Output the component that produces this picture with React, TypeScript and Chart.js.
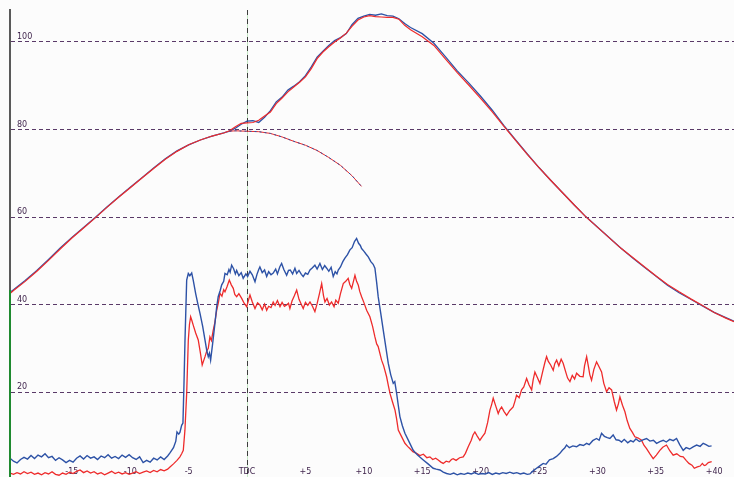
import React, { useEffect, useRef } from 'react';
import { Chart, registerables } from 'chart.js';

Chart.register(...registerables);

// Crank angle axis (degrees around TDC) and value axis ranges
const X_MIN = -20.3;
const X_MAX = 41.7;
const Y_MIN = 0.6;
const Y_MAX = 107.3;
const X_TICKS = [-15, -10, -5, 0, 5, 10, 15, 20, 25, 30, 35, 40];
const Y_TICKS = [20, 40, 60, 80, 100];
const GREEN_AXIS_FROM = 43.3;

// Cylinder pressure (fired) – crank angles
const P_DEG = [
  -20.3, -20, -19, -18, -17, -16, -15, -14, -13, -12, -11, -10, -9, -8, -7, -6, -5, -4, -3, -2,
  -1.5, -1, -0.5, 0, 0.5, 1, 1.5, 2, 2.5, 3, 3.5, 4, 4.5, 5, 5.5, 6, 6.5, 7, 7.5, 8, 8.5, 9, 9.5,
  10, 10.5, 11, 11.5, 12, 12.5, 13, 13.5, 14, 15, 16, 17, 18, 19, 20, 21, 22, 23, 24, 25, 26, 27,
  28, 29, 30, 31, 32, 33, 34, 35, 36, 37, 38, 39, 40, 41, 41.7,
];
const P_BLUE = [
  42.8, 43.4, 45.5, 47.8, 50.3, 52.9, 55.3, 57.6, 59.9, 62.3, 64.6, 66.8, 69.0, 71.2, 73.3, 75.1, 76.5, 77.6, 78.5, 79.2,
  79.6, 80.3, 81.2, 81.9, 82.0, 81.6, 82.8, 84.3, 86.3, 87.4, 89.0, 89.9, 90.9, 92.3, 94.3, 96.5, 97.9, 99.2, 100.3, 101.0, 101.9, 104.0, 105.4,
  105.9, 106.3, 106.1, 106.4, 106.0, 105.9, 105.3, 104.2, 103.3, 101.9, 99.7, 96.6, 93.4, 90.6, 87.6, 84.4, 80.9, 77.6, 74.4, 71.3, 68.4, 65.6,
  62.8, 60.1, 57.7, 55.3, 52.9, 50.7, 48.6, 46.5, 44.4, 42.7, 41.2, 39.7, 38.2, 37.0, 36.2,
];
const P_RED = [
  42.5, 43.2, 45.3, 47.6, 50.1, 52.7, 55.2, 57.5, 59.8, 62.2, 64.5, 66.7, 68.9, 71.1, 73.2, 75.0, 76.5, 77.6, 78.5, 79.2,
  79.7, 80.6, 81.4, 81.5, 81.6, 82.1, 83.1, 84.0, 85.9, 87.2, 88.6, 89.7, 90.8, 92.0, 93.9, 96.2, 97.7, 98.9, 100.0, 100.9, 102.0, 103.6, 105.0,
  105.7, 106.0, 105.8, 105.7, 105.6, 105.6, 105.2, 103.8, 102.8, 101.2, 99.2, 96.1, 93.0, 90.1, 87.1, 84.0, 80.7, 77.5, 74.3, 71.3, 68.4, 65.6,
  62.8, 60.1, 57.7, 55.3, 52.9, 50.8, 48.7, 46.6, 44.6, 42.9, 41.3, 39.8, 38.2, 36.9, 36.1,
];

// Motoring (no combustion) pressure after TDC
const M_DEG = [-1.5, -1, 0, 1, 2, 3, 4, 5, 6, 7, 8, 9, 9.8];
const M_VAL = [79.6, 79.7, 79.6, 79.5, 79.1, 78.3, 77.3, 76.4, 75.2, 73.6, 71.8, 69.4, 67.0];

// Lower blue trace: [crank angle, value]
const BLUE_TRACE: [number, number][] = [
  [-20.3, 4.9], [-20.0, 4.2], [-19.7, 3.8], [-19.4, 4.6], [-19.1, 5.1], [-18.8, 4.7], [-18.5, 5.5], [-18.2, 4.8],
  [-17.9, 5.6], [-17.6, 5.2], [-17.3, 5.9], [-17.0, 5.0], [-16.7, 5.3], [-16.4, 4.4], [-16.1, 5.0], [-15.8, 4.5],
  [-15.5, 3.9], [-15.2, 4.4], [-14.9, 4.0], [-14.6, 4.9], [-14.3, 5.4], [-14.0, 4.7], [-13.7, 5.5], [-13.4, 4.9],
  [-13.1, 5.2], [-12.8, 4.6], [-12.5, 5.4], [-12.2, 5.0], [-11.9, 5.7], [-11.6, 4.9], [-11.3, 5.3], [-11.0, 4.8],
  [-10.7, 5.6], [-10.4, 5.1], [-10.1, 5.7], [-9.8, 5.0], [-9.5, 4.6], [-9.2, 5.2], [-8.9, 3.9], [-8.6, 4.4],
  [-8.3, 4.0], [-8.0, 4.9], [-7.7, 4.5], [-7.4, 5.2], [-7.1, 4.6], [-6.8, 5.4], [-6.6, 6.1], [-6.3, 7.3],
  [-6.1, 8.8], [-6.0, 10.9], [-5.85, 10.4], [-5.75, 10.8], [-5.6, 12.4], [-5.49, 12.9], [-5.4, 22.0], [-5.32, 31.2],
  [-5.17, 45.6], [-5.03, 47.1], [-4.9, 46.6], [-4.74, 47.2], [-4.61, 45.6], [-4.4, 42.5], [-4.2, 40.0], [-4.03, 38.0],
  [-3.8, 35.0], [-3.6, 31.9], [-3.45, 29.5], [-3.32, 28.1], [-3.22, 28.9], [-3.12, 27.3], [-2.95, 31.0], [-2.75, 35.7],
  [-2.6, 39.5], [-2.47, 41.8], [-2.3, 43.2], [-2.17, 44.5], [-2.0, 45.3], [-1.89, 47.1], [-1.7, 46.8], [-1.55, 48.0],
  [-1.45, 47.4], [-1.32, 49.0], [-1.15, 48.2], [-1.0, 47.0], [-0.89, 47.8], [-0.7, 46.6], [-0.5, 47.3], [-0.33, 46.0],
  [-0.1, 47.0], [0.05, 46.4], [0.25, 47.6], [0.45, 46.8], [0.68, 45.2], [0.85, 46.9], [1.0, 48.0], [1.1, 48.6],
  [1.3, 47.3], [1.5, 47.9], [1.68, 46.4], [1.85, 47.5], [2.05, 46.8], [2.24, 47.2], [2.45, 48.1], [2.6, 47.0],
  [2.8, 48.6], [2.96, 49.4], [3.15, 48.0], [3.39, 46.7], [3.55, 47.8], [3.7, 47.9], [3.9, 47.0], [4.1, 48.3],
  [4.25, 47.1], [4.45, 47.8], [4.65, 46.9], [4.81, 46.4], [5.0, 47.2], [5.2, 46.9], [5.39, 47.9], [5.6, 48.4],
  [5.81, 49.0], [6.0, 48.1], [6.24, 49.4], [6.45, 48.0], [6.65, 48.9], [6.82, 48.3], [7.0, 47.6], [7.2, 48.5],
  [7.38, 46.4], [7.55, 47.5], [7.7, 47.0], [7.81, 47.9], [8.0, 48.6], [8.2, 49.8], [8.38, 50.6], [8.6, 51.4],
  [8.81, 52.5], [9.0, 53.0], [9.2, 54.4], [9.38, 55.1], [9.55, 54.0], [9.7, 53.5], [9.81, 52.8], [10.0, 52.2],
  [10.2, 51.5], [10.38, 50.9], [10.6, 49.8], [10.8, 49.2], [10.95, 48.3], [11.1, 45.0], [11.23, 41.8], [11.45, 38.0],
  [11.66, 34.2], [11.9, 30.0], [12.09, 26.6], [12.3, 24.0], [12.52, 22.0], [12.65, 22.4], [12.81, 19.7], [12.95, 17.0],
  [13.09, 14.4], [13.3, 12.3], [13.52, 10.6], [13.9, 8.5], [14.23, 6.7], [14.6, 5.6], [15.09, 4.5], [15.5, 3.6],
  [15.94, 2.6], [16.2, 2.4], [16.52, 2.2], [16.8, 1.7], [17.09, 1.4], [17.4, 1.2], [17.7, 1.5], [18.0, 1.1],
  [18.3, 1.4], [18.6, 1.2], [18.9, 1.5], [19.2, 1.3], [19.5, 1.6], [19.8, 1.2], [20.1, 1.4], [20.4, 1.3],
  [20.7, 1.6], [21.0, 1.2], [21.3, 1.5], [21.6, 1.3], [21.9, 1.6], [22.2, 1.4], [22.5, 1.7], [22.8, 1.4],
  [23.1, 1.6], [23.4, 1.3], [23.7, 1.5], [24.0, 1.2], [24.22, 1.3], [24.5, 2.0], [24.79, 2.6], [25.1, 3.2],
  [25.36, 3.7], [25.6, 3.5], [25.9, 4.5], [26.22, 4.8], [26.5, 5.3], [26.79, 6.0], [27.0, 6.7], [27.2, 7.2],
  [27.36, 7.9], [27.6, 7.3], [27.9, 7.7], [28.22, 7.5], [28.5, 8.0], [28.8, 7.8], [29.08, 8.3], [29.3, 8.0],
  [29.6, 8.9], [29.93, 9.4], [30.15, 9.0], [30.36, 10.6], [30.6, 9.9], [30.85, 9.6], [31.07, 9.4], [31.35, 10.2],
  [31.6, 9.1], [31.85, 9.0], [32.07, 8.6], [32.3, 9.2], [32.6, 8.4], [32.85, 8.9], [33.07, 8.6], [33.3, 9.3],
  [33.6, 8.7], [33.9, 9.1], [34.21, 9.4], [34.5, 8.8], [34.8, 9.0], [35.07, 8.3], [35.35, 8.7], [35.64, 9.0],
  [35.9, 8.6], [36.2, 9.2], [36.5, 8.9], [36.78, 9.4], [37.05, 8.0], [37.35, 6.7], [37.6, 7.3], [37.9, 7.0],
  [38.2, 7.5], [38.5, 7.9], [38.8, 7.6], [39.06, 8.3], [39.3, 8.0], [39.55, 7.6], [39.78, 7.7],
];

// Lower red trace: [crank angle, value]
const RED_TRACE: [number, number][] = [
  [-20.3, 1.5], [-20.0, 1.2], [-19.7, 1.6], [-19.4, 1.3], [-19.1, 1.8], [-18.8, 1.4], [-18.5, 1.7], [-18.2, 1.2],
  [-17.9, 1.5], [-17.6, 1.1], [-17.3, 1.6], [-17.0, 1.3], [-16.7, 1.8], [-16.4, 1.2], [-16.1, 1.0], [-15.8, 1.5],
  [-15.5, 1.2], [-15.2, 1.7], [-14.9, 1.4], [-14.6, 1.9], [-14.3, 2.2], [-14.0, 1.6], [-13.7, 2.0], [-13.4, 1.5],
  [-13.1, 1.8], [-12.8, 1.3], [-12.5, 1.6], [-12.2, 1.1], [-11.9, 1.5], [-11.6, 1.9], [-11.3, 1.4], [-11.0, 1.7],
  [-10.7, 1.3], [-10.4, 1.6], [-10.1, 1.2], [-9.8, 1.5], [-9.5, 1.8], [-9.2, 1.4], [-8.9, 1.7], [-8.6, 2.0],
  [-8.3, 1.6], [-8.0, 2.1], [-7.7, 1.8], [-7.4, 2.3], [-7.1, 2.0], [-6.8, 2.4], [-6.6, 2.9], [-6.3, 3.6],
  [-6.0, 4.4], [-5.75, 5.2], [-5.6, 5.9], [-5.46, 6.7], [-5.32, 11.3], [-5.17, 19.7], [-5.03, 31.9], [-4.93, 35.5],
  [-4.83, 37.2], [-4.72, 36.3], [-4.61, 35.3], [-4.4, 33.5], [-4.18, 31.9], [-4.0, 29.0], [-3.84, 26.2], [-3.7, 27.3],
  [-3.6, 28.1], [-3.45, 29.4], [-3.32, 30.0], [-3.18, 32.6], [-3.05, 31.8], [-2.89, 34.2], [-2.75, 36.0], [-2.6, 38.7],
  [-2.45, 40.5], [-2.32, 42.6], [-2.15, 41.9], [-2.0, 43.4], [-1.89, 42.9], [-1.7, 44.2], [-1.52, 45.6], [-1.35, 44.5],
  [-1.18, 43.7], [-1.05, 42.3], [-0.89, 41.8], [-0.7, 42.5], [-0.46, 41.4], [-0.25, 40.3], [-0.03, 39.5], [0.1, 40.8],
  [0.25, 42.2], [0.45, 40.6], [0.68, 39.1], [0.9, 40.4], [1.1, 39.9], [1.3, 38.8], [1.5, 40.1], [1.68, 38.7],
  [1.85, 39.6], [2.05, 39.3], [2.24, 40.6], [2.4, 39.8], [2.6, 40.9], [2.82, 39.5], [3.0, 40.5], [3.2, 39.6],
  [3.39, 39.9], [3.55, 40.3], [3.67, 39.1], [3.85, 40.8], [4.05, 42.0], [4.25, 43.3], [4.45, 41.2], [4.65, 40.0],
  [4.81, 39.1], [5.0, 40.5], [5.2, 39.8], [5.39, 40.6], [5.6, 39.6], [5.81, 38.4], [6.0, 40.2], [6.2, 42.5],
  [6.39, 44.8], [6.55, 42.0], [6.67, 40.6], [6.85, 41.4], [7.05, 39.9], [7.24, 40.6], [7.45, 39.5], [7.6, 41.0],
  [7.81, 40.3], [8.0, 42.5], [8.24, 44.8], [8.45, 45.3], [8.66, 46.0], [8.8, 44.6], [8.96, 43.7], [9.1, 45.2],
  [9.24, 46.7], [9.38, 45.3], [9.52, 44.5], [9.65, 43.0], [9.81, 41.8], [10.0, 40.5], [10.24, 38.7], [10.52, 37.2],
  [10.75, 35.0], [10.95, 32.6], [11.1, 31.0], [11.23, 30.4], [11.52, 27.3], [11.7, 26.0], [11.95, 23.5], [12.1, 21.5],
  [12.24, 19.7], [12.45, 17.8], [12.67, 15.9], [12.8, 14.0], [12.95, 11.3], [13.2, 10.0], [13.52, 8.3], [13.75, 7.6],
  [13.94, 7.1], [14.2, 6.4], [14.52, 6.0], [14.8, 5.5], [15.1, 5.8], [15.4, 5.0], [15.66, 5.2], [15.9, 4.6],
  [16.15, 4.9], [16.37, 4.5], [16.6, 4.0], [16.8, 3.7], [17.05, 4.2], [17.3, 4.0], [17.5, 4.6], [17.65, 4.8],
  [17.9, 4.4], [18.2, 5.0], [18.51, 5.2], [18.7, 6.0], [18.94, 7.5], [19.2, 9.0], [19.35, 10.2], [19.51, 10.9],
  [19.7, 10.0], [19.94, 9.0], [20.15, 9.8], [20.37, 10.6], [20.6, 13.0], [20.8, 15.9], [20.95, 17.2], [21.08, 18.6],
  [21.3, 16.8], [21.51, 15.1], [21.65, 16.0], [21.8, 16.6], [22.0, 15.6], [22.23, 14.7], [22.5, 15.8], [22.79, 16.6],
  [22.95, 18.0], [23.08, 19.3], [23.3, 18.7], [23.51, 20.5], [23.7, 21.2], [23.94, 23.1], [24.15, 21.6], [24.37, 20.5],
  [24.5, 22.8], [24.65, 24.6], [24.85, 23.4], [25.08, 22.0], [25.3, 24.5], [25.5, 26.7], [25.65, 28.1], [25.8, 27.0],
  [26.0, 26.2], [26.22, 25.0], [26.35, 26.5], [26.51, 27.3], [26.7, 26.0], [26.9, 27.5], [27.07, 26.6], [27.3, 24.5],
  [27.45, 23.2], [27.65, 22.4], [27.85, 23.8], [28.05, 23.0], [28.22, 24.3], [28.5, 23.6], [28.78, 23.5], [28.9, 26.0],
  [29.08, 28.1], [29.25, 25.6], [29.35, 24.0], [29.5, 22.7], [29.7, 25.2], [29.93, 26.9], [30.1, 26.0], [30.36, 24.6],
  [30.55, 22.0], [30.79, 20.1], [31.0, 21.0], [31.22, 20.5], [31.45, 17.8], [31.64, 15.9], [31.8, 17.3], [31.93, 18.9],
  [32.15, 17.0], [32.36, 15.5], [32.55, 13.5], [32.78, 11.7], [33.0, 10.8], [33.21, 9.8], [33.5, 9.5], [33.78, 9.0],
  [34.0, 7.8], [34.21, 7.1], [34.5, 5.9], [34.78, 4.8], [35.05, 5.6], [35.35, 6.7], [35.6, 7.4], [35.92, 7.9],
  [36.2, 6.6], [36.49, 5.6], [36.8, 5.9], [37.1, 5.3], [37.35, 5.2], [37.6, 4.4], [37.84, 3.7], [38.1, 3.3],
  [38.3, 2.6], [38.56, 2.9], [38.8, 3.1], [38.99, 3.7], [39.15, 3.2], [39.27, 3.3], [39.5, 3.9], [39.79, 4.1],
];

const BLUE = '#2d52a6';
const RED = '#ee2b2b';
const GRID = '#5a3a68';
const LABEL = '#3b1f48';
const BG = '#fcfcfc';

const zip = (xs: number[], ys: number[]) => xs.map((x, i) => ({ x, y: ys[i] }));
const pairs = (p: [number, number][]) => p.map(([x, y]) => ({ x, y }));

const decorPlugin = {
  id: 'decor',
  beforeDraw(chart: any) {
    const { ctx, chartArea, scales } = chart;
    ctx.save();
    ctx.fillStyle = BG;
    ctx.fillRect(0, 0, chart.width, chart.height);
    const x0 = Math.round(scales.x.getPixelForValue(0)) + 0.5;
    ctx.strokeStyle = '#c4e6c4';
    ctx.lineWidth = 1;
    ctx.beginPath();
    ctx.moveTo(x0, chartArea.top);
    ctx.lineTo(x0, chartArea.bottom);
    ctx.stroke();
    ctx.restore();
  },
  afterDraw(chart: any) {
    const { ctx, chartArea, scales } = chart;
    const yTop = scales.y.getPixelForValue(GREEN_AXIS_FROM);
    ctx.save();
    ctx.strokeStyle = '#1f8a30';
    ctx.lineWidth = 2;
    ctx.beginPath();
    ctx.moveTo(Math.round(chartArea.left), yTop);
    ctx.lineTo(Math.round(chartArea.left), chart.height);
    ctx.stroke();
    ctx.restore();
  },
};

export default function App() {
  const ref = useRef<HTMLCanvasElement>(null);

  useEffect(() => {
    document.body.style.margin = '0';
    const line = { pointRadius: 0, tension: 0, fill: false };
    const chart = new Chart(ref.current as HTMLCanvasElement, {
      type: 'line',
      data: {
        datasets: [
          { ...line, label: 'motoring-b', data: zip(M_DEG, M_VAL), borderColor: BLUE, borderWidth: 1, borderDash: [2, 3] },
          { ...line, label: 'motoring-r', data: zip(M_DEG, M_VAL), borderColor: RED, borderWidth: 1 },
          { ...line, label: 'pressure-r', data: zip(P_DEG, P_RED), borderColor: RED, borderWidth: 1.2 },
          { ...line, label: 'pressure-b', data: zip(P_DEG, P_BLUE), borderColor: BLUE, borderWidth: 1.3 },
          { ...line, label: 'trace-b', data: pairs(BLUE_TRACE), borderColor: BLUE, borderWidth: 1.4 },
          { ...line, label: 'trace-r', data: pairs(RED_TRACE), borderColor: RED, borderWidth: 1.3 },
        ],
      },
      options: {
        animation: false,
        responsive: false,
        events: [],
        layout: { padding: { top: 10, left: 0, right: 0, bottom: 0 } },
        plugins: { legend: { display: false }, tooltip: { enabled: false } },
        scales: {
          x: {
            type: 'linear',
            min: X_MIN,
            max: X_MAX,
            afterBuildTicks: (scale: any) => {
              scale.ticks = X_TICKS.map((v) => ({ value: v }));
            },
            afterFit: (scale: any) => {
              scale.height = 0;
              scale.paddingLeft = 0;
              scale.paddingRight = 0;
              scale.paddingTop = 0;
              scale.paddingBottom = 0;
            },
            grid: {
              drawTicks: false,
              lineWidth: 1,
              color: (c: any) => (c.tick && c.tick.value === 0 ? '#3c3c3c' : 'rgba(0,0,0,0)'),
            },
            border: { display: false, dash: [5, 4] },
            ticks: {
              mirror: true,
              padding: 0,
              maxRotation: 0,
              autoSkip: false,
              color: LABEL,
              font: { family: 'DejaVu Sans', size: 8 },
              callback: (v: any) => (v === 0 ? 'TDC' : v > 0 ? '+' + v : String(v)),
            },
          },
          y: {
            type: 'linear',
            min: Y_MIN,
            max: Y_MAX,
            afterBuildTicks: (scale: any) => {
              scale.ticks = Y_TICKS.map((v) => ({ value: v }));
            },
            afterFit: (scale: any) => {
              scale.width = 10;
              scale.paddingLeft = 0;
              scale.paddingRight = 0;
              scale.paddingTop = 0;
              scale.paddingBottom = 0;
            },
            grid: { drawTicks: false, lineWidth: 1, color: GRID },
            border: { display: true, color: '#5a5a5a', width: 2, dash: [4, 3] },
            ticks: {
              mirror: true,
              padding: 7,
              labelOffset: -5,
              color: LABEL,
              font: { family: 'DejaVu Sans', size: 8 },
              callback: (v: any) => String(v),
            },
          },
        },
      },
      plugins: [decorPlugin],
    } as any);
    return () => chart.destroy();
  }, []);

  return (
    <div style={{ width: 734, height: 477 }}>
      <canvas ref={ref} width={734} height={477} style={{ display: 'block' }} />
    </div>
  );
}
